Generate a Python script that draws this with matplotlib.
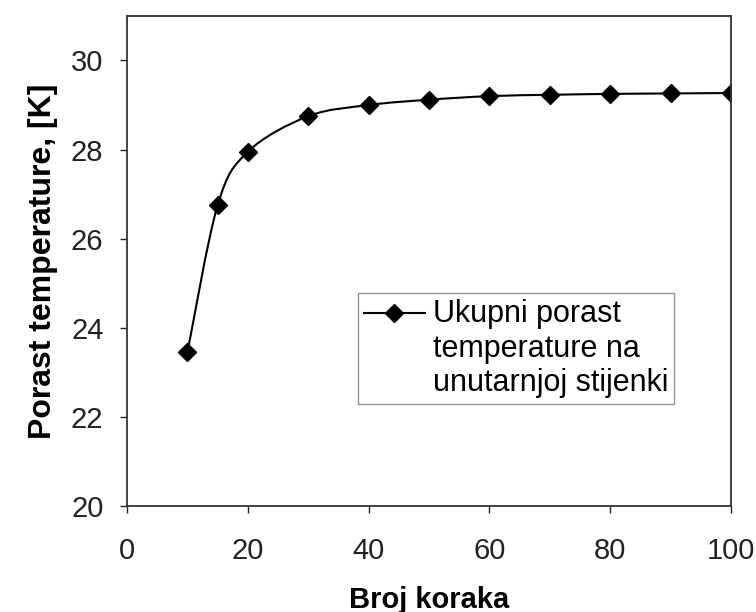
import numpy as np
import matplotlib.pyplot as plt
from matplotlib.path import Path
from matplotlib.patches import PathPatch
from matplotlib.lines import Line2D
from matplotlib.legend_handler import HandlerLine2D

plt.rcParams['font.family'] = ['Liberation Sans', 'DejaVu Sans']

# Podaci ocitani sa slike
broj_koraka = [10, 15, 20, 30, 40, 50, 60, 70, 80, 90, 100]
porast_temp = [23.45, 26.75, 27.95, 28.75, 29.0, 29.12, 29.2, 29.23, 29.25, 29.26, 29.27]
x_ticks = [0, 20, 40, 60, 80, 100]
y_ticks = [20, 22, 24, 26, 28, 30]
legend_label = 'Ukupni porast\ntemperature na\nunutarnjoj stijenki'


# oznaka legende poravnata s prvim redom teksta (kao u Excelu)
class TopLine(HandlerLine2D):
    def create_artists(self, legend, orig_handle, xdescent, ydescent, width, height, fontsize, trans):
        arts = super().create_artists(legend, orig_handle, xdescent, ydescent, width, height, fontsize, trans)
        for a in arts:
            a.set_ydata(np.asarray(a.get_ydata()) + 1.2 * fontsize)
        return arts


fig = plt.figure(figsize=(7.56, 6.12), dpi=100)
ax = fig.add_axes([0.168, 0.173, 0.799, 0.801])

# glatka linija - Catmull-Rom preko Bezier krivulja
pts = np.column_stack([broj_koraka, porast_temp])
n = len(pts)
verts = [pts[0]]
codes = [Path.MOVETO]
for i in range(n - 1):
    p0 = pts[max(i - 1, 0)]
    p1 = pts[i]
    p2 = pts[i + 1]
    p3 = pts[min(i + 2, n - 1)]
    c1 = p1 + (p2 - p0) / 6
    c2 = p2 - (p3 - p1) / 6
    verts += [c1, c2, p2]
    codes += [Path.CURVE4] * 3
ax.add_patch(PathPatch(Path(verts, codes), facecolor='none', edgecolor='black', lw=1.5))

ax.plot(broj_koraka, porast_temp, linestyle='none', marker='D', ms=9.5, color='black')

ax.set_xlim(0, 100)
ax.set_ylim(20, 31)
ax.set_xticks(x_ticks)
ax.set_yticks(y_ticks)
ax.tick_params(direction='out', length=5, width=1, labelsize=21, colors='#222222')
ax.tick_params(axis='x', pad=17)
ax.tick_params(axis='y', pad=12)
for s in ax.spines.values():
    s.set_linewidth(1.3)
    s.set_color('#333333')

ax.set_xlabel('Broj koraka', fontsize=21, fontweight='bold', labelpad=15)
ax.set_ylabel('Porast temperature, [K]', fontsize=23, fontweight='bold', labelpad=9)

handle = Line2D([], [], color='black', lw=1.5, marker='D', ms=9.5)
leg = ax.legend([handle], [legend_label], loc='upper left', bbox_to_anchor=(0.382, 0.435),
                borderaxespad=0, fontsize=22, frameon=True, fancybox=False,
                handlelength=2.0, handletextpad=0.25, borderpad=0.2, labelspacing=0.2,
                handler_map={Line2D: TopLine()})
leg.get_frame().set_edgecolor('#777777')
leg.get_frame().set_linewidth(1.0)

fig.savefig('out.png', dpi=100)
